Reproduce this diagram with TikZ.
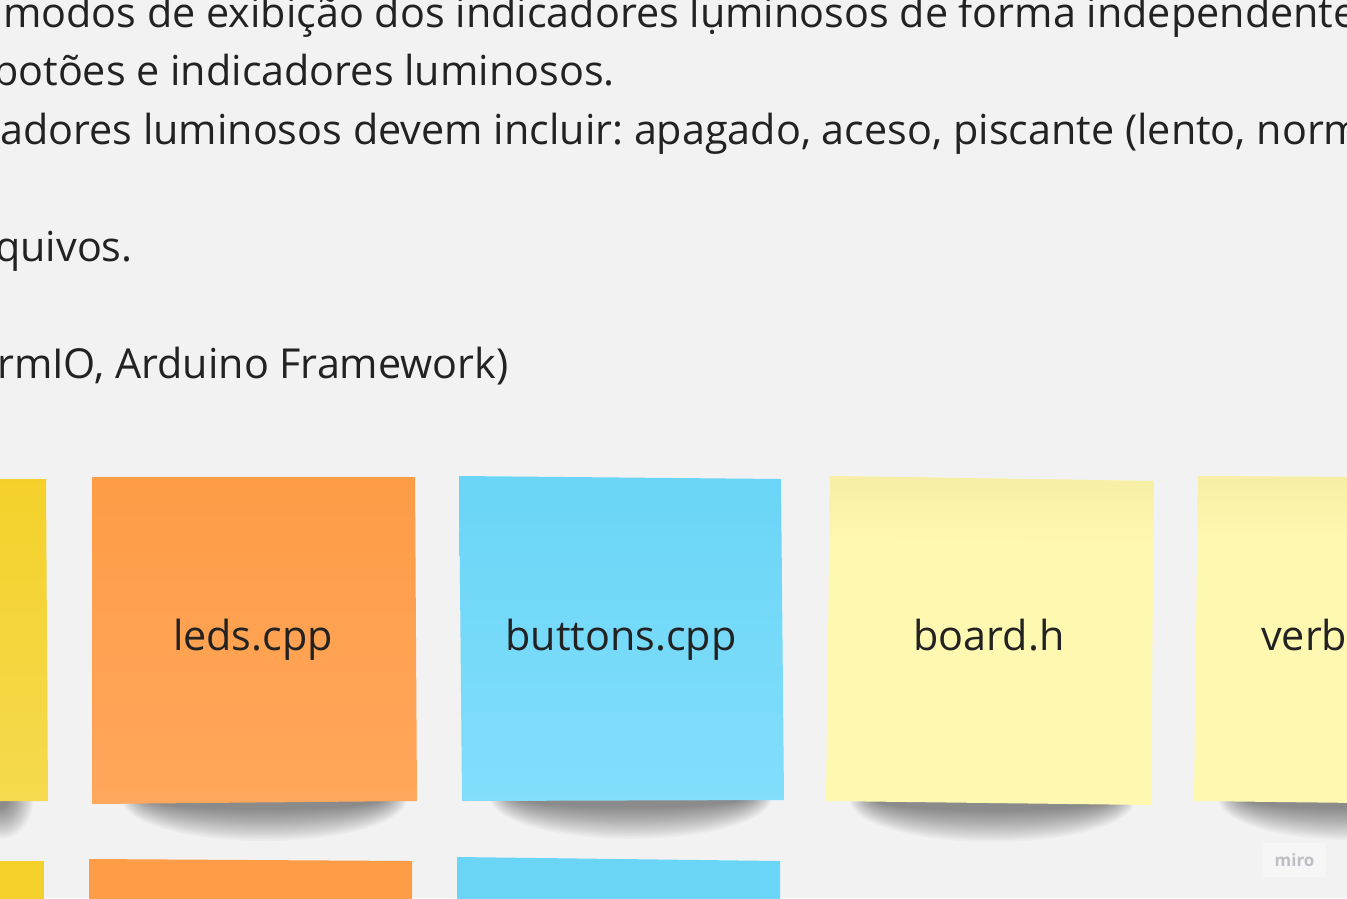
\documentclass[tikz,border=0pt]{standalone}
\usepackage{fontspec}
\setmainfont{Open Sans}
\usetikzlibrary{calc}
\frenchspacing

\definecolor{board}{HTML}{F2F2F2}
\definecolor{ink}{HTML}{222222}
\definecolor{orangeTop}{HTML}{FE9C47}
\definecolor{orangeBot}{HTML}{FFA75C}
\definecolor{blueTop}{HTML}{6AD5F7}
\definecolor{blueBot}{HTML}{82DEFB}
\definecolor{paleBand}{HTML}{F6EEA4}
\definecolor{paleBody}{HTML}{FFF8B1}
\definecolor{goldTop}{HTML}{F4D12A}
\definecolor{goldBot}{HTML}{F5DA4F}
\definecolor{logo}{HTML}{BEBEC6}

\tikzset{
  toptext/.style={anchor=base west, inner sep=0pt, text=ink, font=\fontsize{41.3}{50}\selectfont},
  notetext/.style={anchor=base, inner sep=0pt, text=ink, font=\fontsize{41.3}{50}\selectfont},
}

% soft drop shadow under a note: left x, right x, bottom y, horizontal shift
\newcommand{\noteshadow}[4]{%
  \foreach \k in {0,...,17}{%
    \fill[black, opacity=0.026]
      ({(#1+#2)/2+#4}, {#3-4})
      ellipse [x radius={(#2-#1)/2-20-1.5*\k}, y radius={42-1.85*\k}];
  }%
}

\begin{document}
\begin{tikzpicture}[x=1pt, y=-1pt]
  \useasboundingbox (0,0) rectangle (1347,898);
  \fill[board] (0,0) rectangle (1347,898);
  \clip (0,0) rectangle (1347,898);

  % ---------- requirement text ----------
  \node[toptext] (l1) at (3,27) {modos de exibição dos indicadores lụminosos de forma independente};
  \node[toptext] (l2) at (-7,85.5) {botões e indicadores luminosos.};
  \node[toptext] (l3) at (0,144) {adores luminosos devem incluir: apagado, aceso, piscante (lento, norm};
  \node[toptext] (l4) at (-5,261) {quivos.};
  \node[toptext] (l5) at (-3,378) {rmIO, Arduino Framework)};

  % ---------- shadows ----------
  \noteshadow{-60}{48}{801}{6}
  \noteshadow{92}{417}{803}{10}
  \noteshadow{462}{784}{801}{8}
  \noteshadow{826}{1151}{804}{4}
  \noteshadow{1194}{1500}{802}{4}

  % ---------- sticky notes, first row ----------
  \shade[top color=goldTop, bottom color=goldBot]
    (-60,479) -- (46,479) -- (48,801) -- (-60,801) -- cycle;
  \shade[top color=orangeTop, bottom color=orangeBot]
    (92,477) -- (415,477) -- (417,801) -- (92,804) -- cycle;
  \shade[top color=blueTop, bottom color=blueBot]
    (459,476) -- (781,479) -- (784,800) -- (462,801) -- cycle;
  \fill[paleBody] (830,476) -- (1154,481) -- (1151,805) -- (826,801) -- cycle;
  \shade[top color=paleBand, bottom color=paleBody]
    (830,476) -- (1154,481) -- (1153.4,545) -- (829.3,535) -- cycle;
  \fill[paleBody] (1198,476) -- (1360,477) -- (1360,803) -- (1194,801) -- cycle;
  \shade[top color=paleBand, bottom color=paleBody]
    (1198,476) -- (1360,477) -- (1360,540) -- (1197.3,535) -- cycle;

  \node[notetext] (n1) at (253,650) {leds.cpp};
  \node[notetext] (n2) at (621,650) {buttons.cpp};
  \node[notetext] (n3) at (989,650) {board.h};
  \node[notetext, anchor=base west] (n4) at (1261,650) {verb};

  % ---------- second row (partly visible) ----------
  \fill[goldTop] (-60,861) -- (44,861) -- (44,900) -- (-60,900) -- cycle;
  \fill[orangeTop] (89,859) -- (412,861) -- (412,900) -- (89,900) -- cycle;
  \fill[blueTop] (457,857) -- (780,861) -- (780,900) -- (457,900) -- cycle;

  % ---------- watermark ----------
  \fill[white, opacity=0.35] (1263,843) rectangle (1326,877);
  \node[text=logo, font=\fontsize{17}{20}\selectfont\bfseries, inner sep=0pt] (logo) at (1294.5,860) {miro};
\end{tikzpicture}
\end{document}
